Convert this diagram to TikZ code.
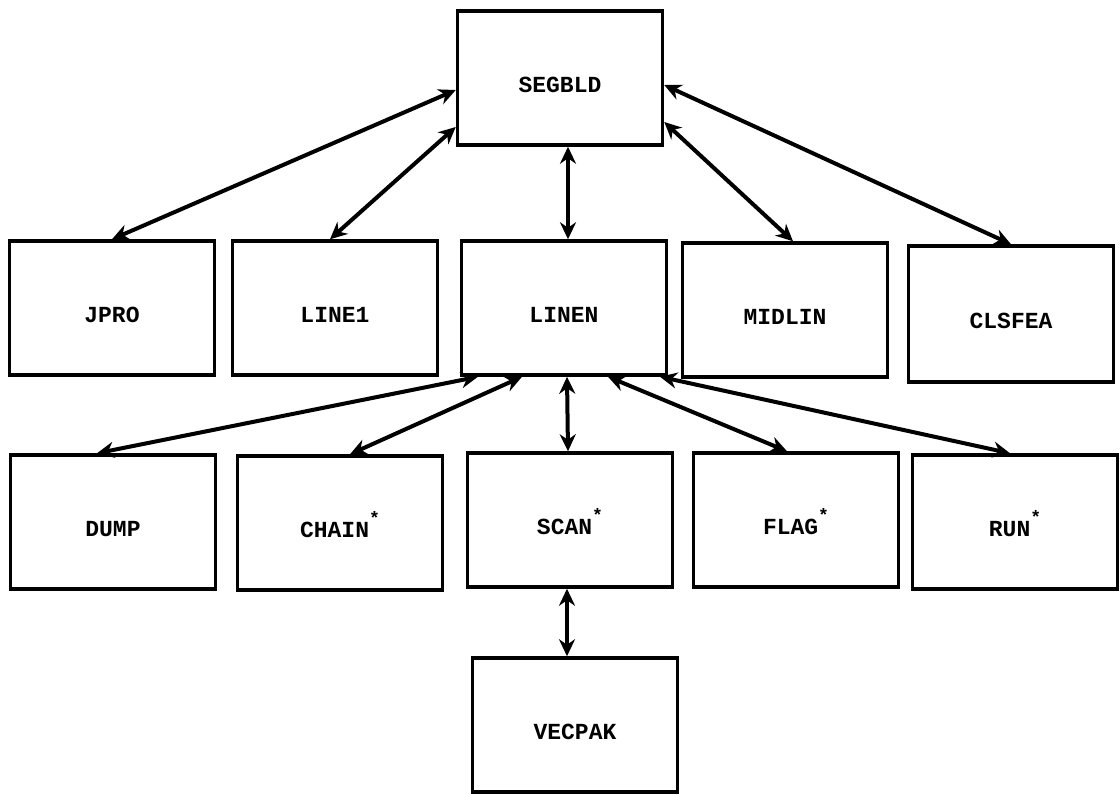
\documentclass[tikz,border=0pt]{standalone}
\usepackage{fontspec}
\usepackage{tikz}
\usetikzlibrary{arrows.meta}
\newfontfamily\progfont{Liberation Mono}
\newcommand{\st}{\raisebox{1.0ex}{\fontsize{18}{18}\selectfont *}}

\begin{document}
\begin{tikzpicture}[x=1pt,y=-1pt,
		box/.style={draw, line width=3.5pt, inner sep=0pt, minimum width=205pt, minimum height=134pt,
			text height=32pt, text depth=4pt, font=\fontsize{23}{23}\selectfont\progfont\bfseries},
		call/.style={line width=4pt, {Stealth[length=17pt,width=16pt]}-{Stealth[length=17pt,width=16pt]}}]
	\useasboundingbox (0,0) rectangle (1120,795);
	% top level
	\node[box] (segbld) at (560,78) {SEGBLD};
	% second row
	\node[box] (jpro) at (112,308) {JPRO};
	\node[box] (line1) at (335,308) {LINE1};
	\node[box] (linen) at (564,308) {LINEN};
	\node[box] (midlin) at (785,310) {MIDLIN};
	\node[box, minimum height=136pt] (clsfea) at (1011,314) {CLSFEA};
	% third row
	\node[box] (dump) at (113,522) {DUMP};
	\node[box] (chain) at (340,523) {CHAIN\st};
	\node[box] (scan) at (570,520) {SCAN\st};
	\node[box] (flag) at (796,520) {FLAG\st};
	\node[box] (run) at (1015,522) {RUN\st};
	\node[box] (vecpak) at (575,725) {VECPAK};
	% calls from segbld
	\draw[call] ([yshift=-12pt]segbld.west) -- (jpro.north);
	\draw[call] ([yshift=-49pt]segbld.west) -- ([xshift=-5pt]line1.north);
	\draw[call] ([xshift=8pt]segbld.south) -- ([xshift=4pt]linen.north);
	\draw[call] ([yshift=-44pt]segbld.east) -- ([xshift=8pt]midlin.north);
	\draw[call] ([yshift=-7pt]segbld.east) -- (clsfea.north);
	% calls from linen
	\draw[call] ([xshift=-86pt]linen.south) -- ([xshift=-16pt]dump.north);
	\draw[call] ([xshift=-42pt]linen.south) -- ([xshift=10pt]chain.north);
	\draw[call] ([xshift=3pt]linen.south) -- ([xshift=-2pt]scan.north);
	\draw[call] ([xshift=44pt]linen.south) -- ([xshift=-9pt]flag.north);
	\draw[call] ([xshift=96pt]linen.south) -- ([xshift=-5pt]run.north);
	\draw[call] ([xshift=-3pt]scan.south) -- ([xshift=-8pt]vecpak.north);
\end{tikzpicture}
\end{document}
